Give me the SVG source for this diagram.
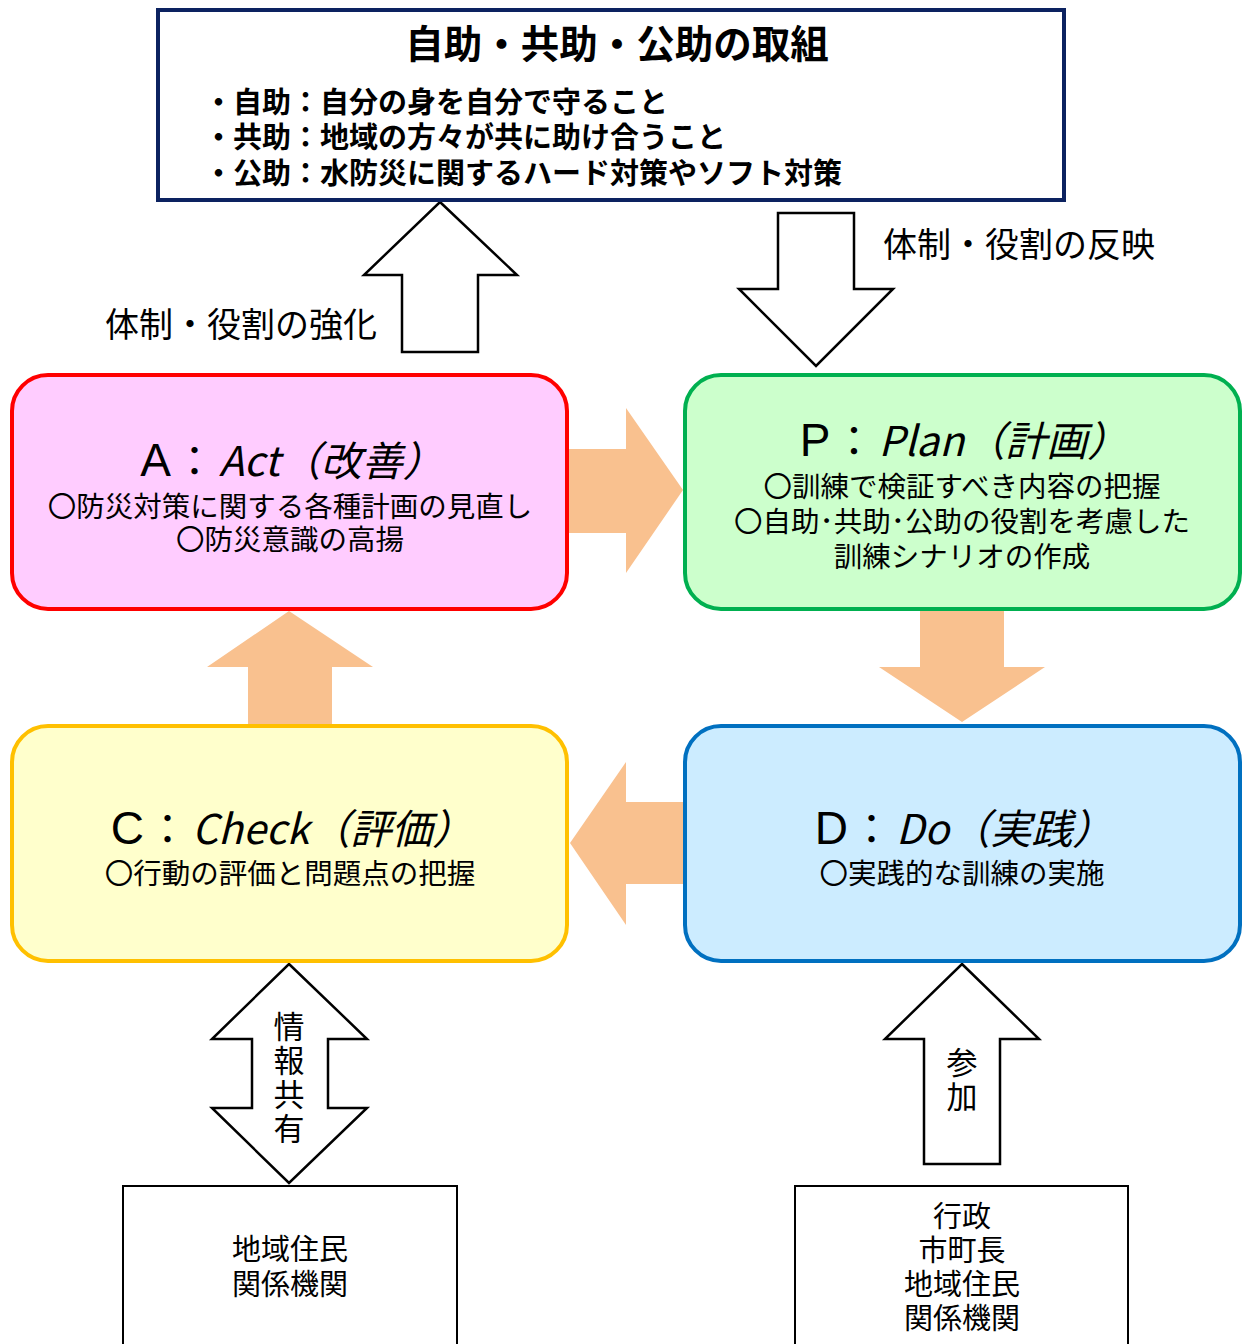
<svg xmlns="http://www.w3.org/2000/svg" width="1244" height="1344" viewBox="0 0 1244 1344">
<style>
text{font-family:"Noto Sans CJK JP","Noto Sans",sans-serif;fill:#000}
.hd{font-size:38.5px;font-weight:bold;text-anchor:middle}
.bl{font-size:29px;font-weight:bold}
.lb{font-size:34px}
.tt{font-size:41px;text-anchor:middle}
.ltr{font-size:46px;font-family:"Liberation Sans",Arial,sans-serif}
.it{font-style:italic}
.sb{font-size:28.5px;text-anchor:middle}
.vt{font-size:31px;writing-mode:vertical-rl;letter-spacing:3px}
.bx{font-size:29px;text-anchor:middle}
.out{fill:#fff;stroke:#000;stroke-width:2.5}
.org{fill:#F9C18F}
</style>
<rect width="1244" height="1344" fill="#fff"/>
<g id="connectors">
<polygon class="out" points="440,202 517,275 478,275 478,352 402,352 402,275 364,275"/>
<polygon class="out" points="778,213 854,213 854,289 893,289 816,366 739,289 778,289"/>
<polygon class="org" points="567,449 626,449 626,408 683,490 626,573 626,533 567,533"/>
<polygon class="org" points="920,609 1004,609 1004,667 1045,667 962,722 879,667 920,667"/>
<polygon class="org" points="289,611 373,667 332,667 332,725 248,725 248,667 207,667"/>
<polygon class="org" points="685,802 685,884 626,884 626,925 570,843 626,762 626,802"/>
<polygon class="out" points="289,964 367,1039 328,1039 328,1108 367,1108 289,1183 212,1108 252,1108 252,1039 212,1039"/>
<polygon class="out" points="962,964 1039,1039 1000,1039 1000,1164 924,1164 924,1039 885,1039"/>
<text class="lb" x="883" y="257">体制・役割の反映</text>
<text class="lb" x="105" y="337">体制・役割の強化</text>
<text class="vt" x="289" y="1011">情報共有</text>
<text class="vt" x="962" y="1047">参加</text>
</g>
<g id="top">
<rect x="158" y="10" width="906" height="190" fill="#fff" stroke="#0C2260" stroke-width="4"/>
<text class="hd" x="617" y="58">自助・共助・公助の取組</text>
<text class="bl" x="204" y="113">・自助：自分の身を自分で守ること</text>
<text class="bl" x="204" y="148">・共助：地域の方々が共に助け合うこと</text>
<text class="bl" x="204" y="184">・公助：水防災に関するハード対策やソフト対策</text>
</g>
<g id="act">
<rect x="12" y="375" width="555" height="234" rx="36" fill="#FFCCFF" stroke="#FF0000" stroke-width="4"/>
<text class="tt" x="292" y="476"><tspan class="ltr">A</tspan><tspan dx="3">：</tspan><tspan dx="4" class="it">Act（改善）</tspan></text>
<text class="sb" x="290" y="517">〇防災対策に関する各種計画の見直し</text>
<text class="sb" x="290" y="550">〇防災意識の高揚</text>
</g>
<g id="plan">
<rect x="685" y="375" width="555" height="234" rx="36" fill="#CCFFCC" stroke="#00B050" stroke-width="4"/>
<text class="tt" x="964" y="456"><tspan class="ltr">P</tspan><tspan dx="3">：</tspan><tspan dx="4" class="it">Plan（計画）</tspan></text>
<text class="sb" x="962" y="497">〇訓練で検証すべき内容の把握</text>
<text class="sb" x="962" y="532">〇自助･共助･公助の役割を考慮した</text>
<text class="sb" x="962" y="567">訓練シナリオの作成</text>
</g>
<g id="check">
<rect x="12" y="726" width="555" height="235" rx="36" fill="#FFFFCC" stroke="#FFC000" stroke-width="4"/>
<text class="tt" x="292" y="844"><tspan class="ltr">C</tspan><tspan dx="3">：</tspan><tspan dx="4" class="it">Check（評価）</tspan></text>
<text class="sb" x="290" y="884">〇行動の評価と問題点の把握</text>
</g>
<g id="do">
<rect x="685" y="726" width="555" height="235" rx="36" fill="#CCECFF" stroke="#0070C0" stroke-width="4"/>
<text class="tt" x="964" y="844"><tspan class="ltr">D</tspan><tspan dx="3">：</tspan><tspan dx="4" class="it">Do（実践）</tspan></text>
<text class="sb" x="962" y="884">〇実践的な訓練の実施</text>
</g>
<g id="residents">
<rect x="123" y="1186" width="334" height="170" fill="#fff" stroke="#000" stroke-width="2"/>
<text class="bx" x="290" y="1260">地域住民</text>
<text class="bx" x="290" y="1295">関係機関</text>
</g>
<g id="participants">
<rect x="795" y="1186" width="333" height="170" fill="#fff" stroke="#000" stroke-width="2"/>
<text class="bx" x="962" y="1227">行政</text>
<text class="bx" x="962" y="1261">市町長</text>
<text class="bx" x="962" y="1295">地域住民</text>
<text class="bx" x="962" y="1329">関係機関</text>
</g>
</svg>
